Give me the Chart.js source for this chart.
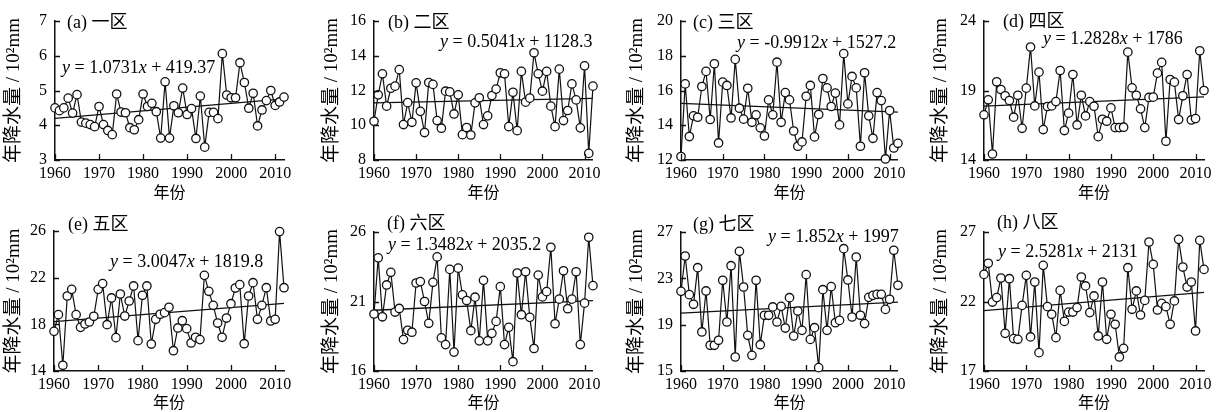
<!DOCTYPE html>
<html><head><meta charset="utf-8">
<script src="https://cdn.jsdelivr.net/npm/chart.js@4"></script>
<style>
html,body{margin:0;padding:0;background:#fff;width:1221px;height:412px;overflow:hidden;position:relative}
canvas{position:absolute}
</style></head><body>
<script>
// ---------- data ----------
const years = [1960,1961,1962,1963,1964,1965,1966,1967,1968,1969,1970,1971,1972,1973,1974,1975,1976,1977,1978,1979,1980,1981,1982,1983,1984,1985,1986,1987,1988,1989,1990,1991,1992,1993,1994,1995,1996,1997,1998,1999,2000,2001,2002,2003,2004,2005,2006,2007,2008,2009,2010,2011,2012];
const xTickYears = [1960,1970,1980,1990,2000,2010];
const panelLabels = ['(a) 一区','(b) 二区','(c) 三区','(d) 四区','(e) 五区','(f) 六区','(g) 七区','(h) 八区'];
const slopes = ['1.0731','0.5041','-0.9912','1.2828','3.0047','1.3482','1.852','2.5281'];
const intercepts = ['419.37','1128.3','1527.2','1786','1819.8','2035.2','1997','2131'];
const yMins = [3,8,12,14,14,16,15,17];
const yMaxs = [7,16,20,24,26,26,27,27];
const ySteps = [1,2,2,5,4,5,4,5];
const trendStart = [4.20,11.29,15.26,17.87,18.23,20.37,19.99,21.34];
const trendEnd = [4.76,11.55,14.75,18.54,19.79,21.07,20.95,22.65];

const rainA = [4.50,4.42,4.50,4.78,4.35,4.88,4.09,4.06,4.02,3.96,4.54,4.02,3.85,3.73,4.90,4.38,4.36,3.93,3.87,4.16,4.90,4.54,4.63,4.39,3.63,5.25,3.63,4.56,4.36,5.07,4.31,4.48,3.62,4.84,3.37,4.37,4.37,4.19,6.06,4.87,4.79,4.79,5.80,5.23,4.49,4.92,3.98,4.44,4.71,5.00,4.57,4.67,4.81];
const rainB = [10.23,11.75,12.96,11.10,12.13,12.25,13.20,10.04,11.30,10.17,12.44,10.80,9.58,12.46,12.35,10.27,9.83,11.96,11.92,10.65,11.75,9.46,9.87,9.44,11.29,11.58,10.04,10.54,11.71,12.08,13.02,12.96,9.92,11.90,9.69,13.10,11.33,11.56,14.17,12.96,11.96,13.10,11.10,9.92,13.23,10.27,10.85,12.38,11.46,9.85,13.42,8.38,12.25];
const rainC = [12.20,16.38,13.35,14.54,14.46,16.23,17.10,14.33,17.54,12.98,16.48,16.29,14.42,17.79,14.98,14.35,16.13,14.17,14.60,13.85,13.38,15.46,14.60,17.63,14.17,15.88,15.46,13.67,12.79,13.04,15.67,16.29,13.33,14.62,16.69,16.15,15.08,15.85,14.02,18.12,15.23,16.81,16.15,12.79,17.02,14.54,13.25,15.88,15.42,12.06,14.85,12.69,12.96];
const rainD = [17.25,18.33,14.43,19.63,19.07,18.62,18.28,17.08,18.66,16.28,19.17,22.13,17.89,20.32,16.19,17.85,17.89,18.20,20.44,16.12,17.37,20.15,16.52,18.66,17.17,18.20,17.87,15.68,16.93,16.79,17.75,16.33,16.33,16.36,21.76,19.19,18.66,17.68,16.33,18.50,18.52,20.25,21.02,15.35,19.79,19.60,16.91,18.62,20.15,16.88,16.98,21.86,19.00];
const rainE = [17.40,18.83,14.49,20.43,21.00,18.83,17.74,18.03,18.20,18.69,21.00,21.49,17.97,20.26,16.86,20.60,18.71,20.00,21.29,16.60,20.49,21.29,16.31,18.43,18.86,19.00,19.46,15.74,17.69,18.31,17.63,16.40,16.89,16.69,22.20,20.83,19.63,18.11,16.89,18.54,19.77,21.11,21.40,16.34,20.43,21.57,18.43,19.63,21.14,18.29,18.43,25.95,21.14];
const rainF = [20.10,24.14,19.90,22.19,23.10,20.24,20.50,18.26,18.93,18.79,22.33,22.43,21.00,19.43,22.38,24.21,18.38,17.90,23.31,17.36,23.40,21.48,21.07,18.90,21.31,18.17,22.52,18.17,18.71,19.57,22.07,17.90,19.14,16.67,23.05,20.05,23.14,19.86,17.62,22.90,21.33,21.71,24.90,19.40,21.17,23.21,20.48,21.17,23.14,17.90,20.88,25.62,22.14];
const rainG = [21.88,24.93,21.59,20.76,23.92,18.37,21.91,17.22,17.22,17.65,22.83,19.23,24.09,16.21,25.33,22.25,18.08,16.35,22.83,17.27,19.81,19.81,20.53,19.23,20.58,18.71,21.33,18.02,20.18,18.51,23.32,17.73,18.74,15.29,22.02,18.51,22.28,19.17,19.37,25.56,22.86,19.66,24.84,19.81,19.09,21.36,21.53,21.62,21.62,20.32,21.19,25.42,22.40];
const rainH = [23.95,24.75,21.96,22.28,23.69,19.71,23.64,19.33,19.28,21.72,23.88,19.45,23.40,18.32,24.60,21.63,21.08,19.40,22.80,20.57,21.24,21.24,21.56,23.76,23.12,21.20,22.40,19.52,23.40,19.28,21.08,20.36,18.01,18.63,24.43,21.44,22.76,21.03,22.08,26.28,24.67,21.39,21.87,21.63,20.36,22.04,26.47,24.48,23.04,23.40,19.88,26.40,24.31];
const allRain = [rainA,rainB,rainC,rainD,rainE,rainF,rainG,rainH];

// ---------- layout (pixels) ----------
const LAYOUT = [
  {x:0,  y:0,  w:300,h:205,L:55,T:21,R:16,B:45,eq:[7,47], lab:[12,2], xtb:2},
  {x:318,y:0,  w:287,h:205,L:56,T:21,R:12,B:45,eq:[66,21],lab:[14,2], xtb:2},
  {x:623,y:0,  w:287,h:205,L:58,T:21,R:10,B:45,eq:[56,22],lab:[12,2], xtb:2},
  {x:927,y:0,  w:294,h:205,L:57,T:21,R:17,B:45,eq:[59,18],lab:[19,1], xtb:2},
  {x:0,  y:205,w:300,h:207,L:54,T:26,R:16,B:41,eq:[56,31],lab:[14,-6],xtb:-1},
  {x:318,y:205,w:287,h:207,L:56,T:27,R:12,B:41,eq:[14,13],lab:[13,-8],xtb:-1},
  {x:623,y:205,w:287,h:207,L:58,T:27,R:10,B:41,eq:[87,5], lab:[12,-7],xtb:-1},
  {x:927,y:205,w:294,h:207,L:57,T:27,R:17,B:41,eq:[14,20],lab:[13,-9],xtb:-1}
];

const SERIF = "'Liberation Serif','Noto Sans CJK SC',serif";
const INK = '#111';

function makeChart(i){
  const lay = LAYOUT[i];
  const values = allRain[i];
  const cv = document.createElement('canvas');
  cv.width = lay.w; cv.height = lay.h;
  cv.style.left = lay.x+'px'; cv.style.top = lay.y+'px';
  cv.style.width = lay.w+'px'; cv.style.height = lay.h+'px';
  document.body.appendChild(cv);

  const decor = {
    id:'decor'+i,
    afterDraw(chart){
      const {ctx, chartArea:ca, scales} = chart;
      const xs = scales.x, ys = scales.y;
      ctx.save();
      ctx.strokeStyle = INK; ctx.lineWidth = 1.3;
      ctx.beginPath();
      ys.ticks.forEach(t=>{const py=Math.round(ys.getPixelForValue(t.value))+0.5; ctx.moveTo(ca.left,py); ctx.lineTo(ca.left+5,py);});
      xs.ticks.forEach(t=>{const px=Math.round(xs.getPixelForValue(t.value))+0.5; ctx.moveTo(px,ca.bottom); ctx.lineTo(px,ca.bottom-6);});
      ctx.stroke();
      ctx.fillStyle = '#000';
      ctx.textBaseline = 'middle';
      ctx.textAlign = 'left';
      ctx.font = "18px "+SERIF;
      ctx.fillText(panelLabels[i], ca.left+lay.lab[0], ca.top+lay.lab[1]);
      const segs = [
        {t:'y', it:true},{t:' = '+slopes[i], it:false},{t:'x', it:true},{t:' + '+intercepts[i], it:false}
      ];
      let ex = ca.left+lay.eq[0];
      const ey = ca.top+lay.eq[1];
      segs.forEach(s=>{
        ctx.font = (s.it?'italic ':'')+"18px "+SERIF;
        ctx.fillText(s.t, ex, ey);
        ex += ctx.measureText(s.t).width;
      });
      ctx.restore();
    }
  };

  new Chart(cv, {
    type:'line',
    data:{datasets:[
      {data: years.map((yr,k)=>({x:yr, y:values[k]})),
       borderColor:INK, borderWidth:1.2, tension:0,
       pointRadius:4.2, pointBorderWidth:1.3, pointBackgroundColor:'#fff', pointBorderColor:INK,
       clip:false},
      {data:[{x:years[0], y:trendStart[i]},{x:years[years.length-1], y:trendEnd[i]}],
       borderColor:INK, borderWidth:1.3, pointRadius:0, clip:false}
    ]},
    options:{
      responsive:false, animation:false, devicePixelRatio:1,
      layout:{padding:{left:0, top:lay.T, right:lay.R, bottom:0}},
      plugins:{legend:{display:false}, tooltip:{enabled:false}},
      scales:{
        x:{
          type:'linear', min:years[0], max:years[years.length-1],
          afterBuildTicks:s=>{s.ticks = xTickYears.map(v=>({value:v}));},
          afterFit:s=>{s.height = lay.B;},
          grid:{display:false, drawTicks:false},
          border:{display:true, color:INK, width:1.5},
          ticks:{color:'#000', font:{family:SERIF, size:16}, padding:4, maxRotation:0, autoSkip:false, callback:v=>String(v)},
          title:{display:true, text:'年份', color:'#000', font:{family:SERIF, size:16}, padding:{top:0, bottom:lay.xtb}}
        },
        y:{
          min:yMins[i], max:yMaxs[i],
          afterFit:s=>{s.width = lay.L;},
          grid:{display:false, drawTicks:false},
          border:{display:true, color:INK, width:1.5},
          ticks:{stepSize:ySteps[i], color:'#000', font:{family:SERIF, size:16}, padding:8, callback:v=>String(v)},
          title:{display:true, text:'年降水量 / 10²mm', color:'#000', font:{family:SERIF, size:19}, padding:{top:3, bottom:0}}
        }
      }
    },
    plugins:[decor]
  });
}
for (let i=0;i<8;i++) makeChart(i);
</script>
</body></html>
